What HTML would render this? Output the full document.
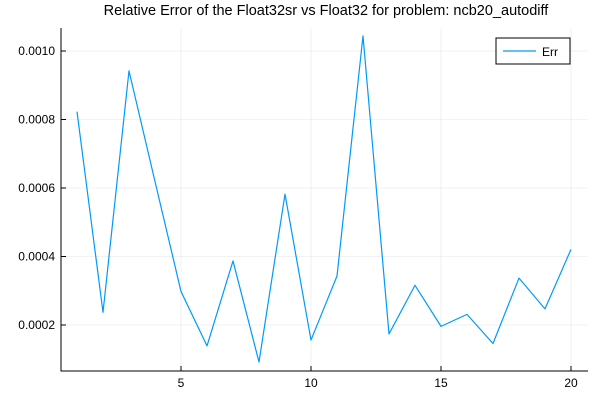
<!DOCTYPE html>
<html><head><meta charset="utf-8"><style>
body{margin:0;background:#fff}
svg{display:block;font-family:"Liberation Sans",sans-serif}
</style></head><body>
<svg id="chart" width="600" height="400">
<text x="326" y="15" text-anchor="middle" font-size="14.5" fill="#000">Relative Error of the Float32sr vs Float32 for problem: ncb20_autodiff</text>
<g id="grid"></g><g id="axes"></g><g id="series"></g>
<g>
<rect x="496" y="38" width="74" height="26" fill="#fff" stroke="#000" stroke-width="1"/>
<line x1="503" y1="51" x2="536" y2="51" stroke="#009af9" stroke-width="1.2"/>
<text x="542" y="56" font-size="12">Err</text>
</g>
</svg>
<script>
const xs=[1,2,3,4,5,6,7,8,9,10,11,12,13,14,15,16,17,18,19,20];
const errs=[0.000823,0.000237,0.000942,0.000619,0.000298,0.000139,0.000387,0.000092,0.000582,0.000156,0.000343,0.001044,0.000174,0.000316,0.000196,0.000231,0.000146,0.000337,0.000247,0.000421];
const xticks=[5,10,15,20];
const yticks=[0.0002,0.0004,0.0006,0.0008,0.0010];
const ytickLabels=["0.0002","0.0004","0.0006","0.0008","0.0010"];
const L=61,R=588,T=28,B=371;
const X=v=>77+(v-1)*26;
const Y=v=>325-(v-0.0002)/0.0002*68.5;
const NS="http://www.w3.org/2000/svg";
function mk(tag,attrs,parent,text){const e=document.createElementNS(NS,tag);for(const k in attrs)e.setAttribute(k,attrs[k]);if(text!==undefined)e.textContent=text;document.getElementById(parent).appendChild(e);return e;}
xticks.forEach(t=>{
 let g=mk('line',{x1:X(t),x2:X(t),y1:T,y2:B,stroke:'#000','stroke-opacity':0.1,'stroke-width':0.6},'grid');
 
 
 let k=mk('line',{x1:X(t),x2:X(t),y1:B,y2:B-5,stroke:'#000'},'axes');
 
 
 let l=mk('text',{x:X(t),y:B+16,'text-anchor':'middle','font-size':12},'axes',String(t));
 
 
});
yticks.forEach((t,i)=>{
 let g=mk('line',{x1:L,x2:R,y1:Y(t),y2:Y(t),stroke:'#000','stroke-opacity':0.1,'stroke-width':0.6},'grid');
 
 
 let k=mk('line',{x1:L,x2:L+5,y1:Y(t),y2:Y(t),stroke:'#000'},'axes');
 
 
 let l=mk('text',{x:L-6,y:Y(t)+4,'text-anchor':'end','font-size':12},'axes',ytickLabels[i]);
 
 
});
let ax=mk('path',{d:`M${L},${T}V${B}H${R}`,fill:'none',stroke:'#000','stroke-width':1},'axes');


let p=mk('polyline',{points:xs.map((x,i)=>X(x)+','+Y(errs[i])).join(' '),fill:'none',stroke:'#009af9','stroke-width':1.2,'stroke-linejoin':'round'},'series');


</script>
</body></html>
